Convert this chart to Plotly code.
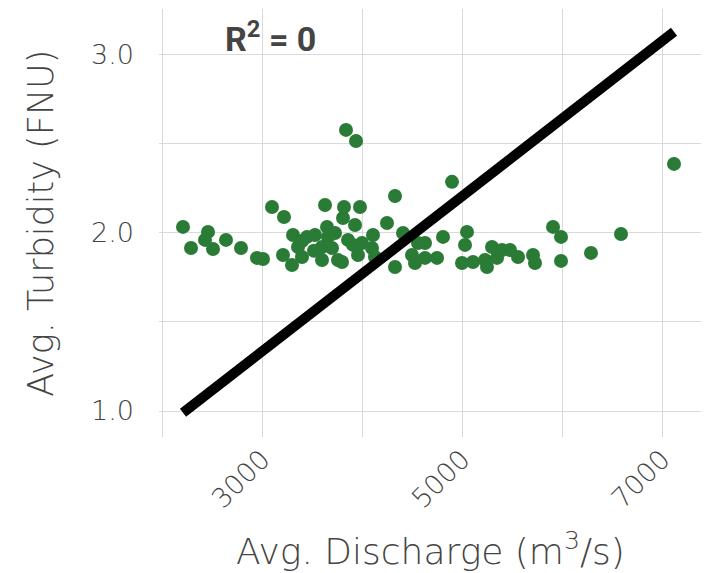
import plotly.graph_objects as go

# Data
discharge = [2210, 2290, 2460, 2430, 2510, 2640, 2790, 2950, 3010, 3100,
             3220, 3210, 3310, 3300, 3360, 3400, 3450, 3530, 3630, 3820,
             3980, 3810, 3840, 3940, 3930, 3650, 3660, 3730, 3600, 3700,
             3600, 3760, 3860, 3910, 4000, 4110, 4100, 3960, 3800, 4130,
             4250, 4330, 4410, 4810, 5050, 5030, 4630, 4560, 4500, 4330,
             4530, 4630, 4750, 5000, 5110, 5230, 5300, 5250, 5350, 5400,
             5480, 5560, 5710, 5730, 5910, 5990, 5990, 6290, 6590, 7120,
             4900, 3400, 3520]
turbidity = [2.034, 1.916, 2.006, 1.961, 1.910, 1.961, 1.916, 1.860, 1.854, 2.146,
             2.090, 1.876, 1.989, 1.820, 1.921, 1.865, 1.978, 1.989, 2.157, 2.146,
             2.146, 2.084, 2.579, 2.517, 2.045, 2.034, 1.978, 2.000, 1.921, 1.916,
             1.848, 1.848, 1.961, 1.933, 1.944, 1.989, 1.916, 1.876, 1.837, 1.865,
             2.056, 2.208, 2.000, 1.978, 2.006, 1.933, 1.944, 1.944, 1.876, 1.809,
             1.831, 1.860, 1.860, 1.831, 1.837, 1.848, 1.921, 1.809, 1.860, 1.904,
             1.904, 1.865, 1.876, 1.831, 2.034, 1.978, 1.843, 1.888, 1.994, 2.388,
             2.287, 1.955, 1.900]

fit_x = [2210, 7120]
fit_y = [0.99, 3.13]

x_tickvals = [2000, 3000, 4000, 5000, 6000, 7000]
x_ticktext = ["", "3000", "", "5000", "", "7000"]
y_tickvals = [1.0, 1.5, 2.0, 2.5, 3.0]
y_ticktext = ["1.0", "", "2.0", "", "3.0"]

title_text = "R<sup>2</sup> = 0"
x_title = "Avg. Discharge (m<sup>3</sup>/s)"
y_title = "Avg. Turbidity (FNU)"

FONT = "DejaVu Sans"
TXT = "#444444"
GRID = "#dadada"

fig = go.Figure()
fig.add_trace(go.Scatter(
    x=discharge, y=turbidity, mode="markers",
    marker=dict(color="#2a7b36", size=14, line=dict(width=0)),
    showlegend=False, hoverinfo="x+y"))
fig.add_trace(go.Scatter(
    x=fit_x, y=fit_y, mode="lines",
    line=dict(color="black", width=10),
    showlegend=False))

fig.update_layout(
    width=715, height=573,
    margin=dict(l=159, r=14, t=9, b=136),
    paper_bgcolor="white", plot_bgcolor="white",
    font=dict(family=FONT, color=TXT, weight=200),
    xaxis=dict(range=[1970, 7390], tickvals=x_tickvals, ticktext=x_ticktext,
               tickangle=-45, showgrid=True, gridcolor=GRID, gridwidth=1.3,
               zeroline=False, showline=False, ticks="",
               tickfont=dict(size=27, color=TXT, family=FONT, weight=200)),
    yaxis=dict(range=[0.854, 3.258], tickvals=y_tickvals, ticktext=y_ticktext,
               showgrid=True, gridcolor=GRID, gridwidth=1.3,
               zeroline=False, showline=False, ticks="",
               ticklabelstandoff=24,
               tickfont=dict(size=27, color=TXT, family=FONT, weight=200)),
    annotations=[
        dict(text=title_text, xref="paper", yref="paper", x=0.205, y=0.935,
             xanchor="center", yanchor="middle", showarrow=False,
             font=dict(family="Roboto", size=34, color="#444444", weight="bold")),
        dict(text=x_title, xref="paper", yref="paper", x=0.5, y=-0.262,
             xanchor="center", yanchor="middle", showarrow=False,
             font=dict(family=FONT, size=36, color=TXT, weight=200)),
        dict(text=y_title, xref="paper", yref="paper", x=-0.218, y=0.5,
             xanchor="center", yanchor="middle", showarrow=False, textangle=-90,
             font=dict(family=FONT, size=35, color=TXT, weight=200)),
    ],
)

fig.write_html("out.html")
